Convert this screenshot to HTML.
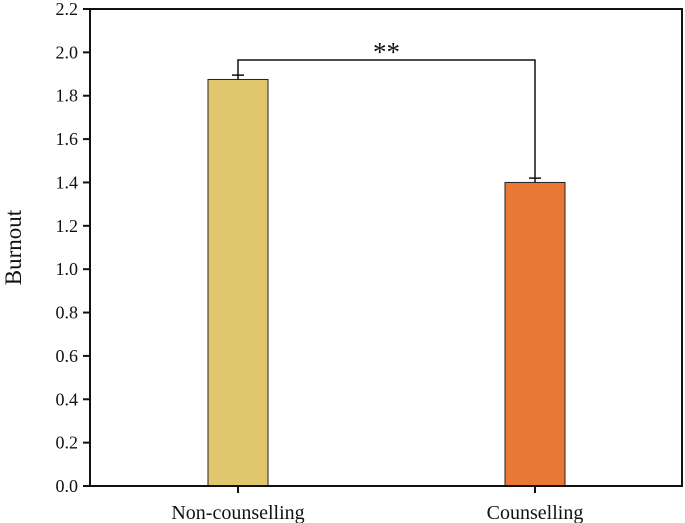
<!DOCTYPE html>
<html><head><meta charset="utf-8"><style>body{margin:0;background:#fff}svg{display:block}text{font-family:"Liberation Serif",serif;fill:#111}</style></head>
<body>
<svg id="chart" width="685" height="523"></svg>
<script>
const categories=["Non-counselling","Counselling"];
const values=[1.875,1.40];
const errors=[0.02,0.02];
const colors=["#E0C66C","#EA7835"];
const yTicks=[0,0.2,0.4,0.6,0.8,1.0,1.2,1.4,1.6,1.8,2.0,2.2];
const sigLabel="**";
const NS="http://www.w3.org/2000/svg";
const svg=document.getElementById('chart');
const L=90,R=682,T=9,B=486,yMax=2.2;
const y=v=>B-(v/yMax)*(B-T);
const xc=i=>[238,535][i];
const bw=60;
function mk(tag,attrs,txt){const e=document.createElementNS(NS,tag);for(const k in attrs)e.setAttribute(k,attrs[k]);if(txt!==undefined)e.textContent=txt;svg.appendChild(e);return e;}
categories.forEach((c,i)=>{
 const b=mk('rect',{x:xc(i)-bw/2,y:y(values[i]),width:bw,height:B-y(values[i]),fill:colors[i],stroke:'#222','stroke-width':1});
 
 
 const e=mk('path',{d:`M${xc(i)},${y(values[i])} V${y(values[i]+errors[i])} M${xc(i)-6},${y(values[i]+errors[i])} H${xc(i)+6}`,stroke:'#111','stroke-width':1.5,fill:'none'});
 
 
 const t=mk('path',{d:`M${xc(i)},${B} V${B+7}`,stroke:'#111','stroke-width':2});
 
 
 const l=mk('text',{x:xc(i),y:519,'text-anchor':'middle','font-size':20},c);
 
 
});
const topY=y(Math.max(...values)+0.09);
const br=mk('path',{d:`M${xc(0)},${y(values[0]+errors[0])} V${topY} H${xc(1)} V${y(values[1]+errors[1])}`,stroke:'#111','stroke-width':1.5,fill:'none'});


const st=mk('text',{x:(xc(0)+xc(1))/2,y:topY+1,'text-anchor':'middle','font-size':27},sigLabel);


yTicks.forEach(v=>{
 const t=mk('path',{d:`M${L-7},${y(v)} H${L}`,stroke:'#111','stroke-width':2});
 
 
 const l=mk('text',{x:L-12,y:y(v)+6,'text-anchor':'end','font-size':18},v.toFixed(1));
 
 
});
const fr=mk('rect',{x:L,y:T,width:R-L,height:B-T,fill:'none',stroke:'#111','stroke-width':2});


const yt=mk('text',{x:0,y:0,transform:`translate(21,${(T+B)/2}) rotate(-90)`,'text-anchor':'middle','font-size':23},'Burnout');


</script>
</body></html>
